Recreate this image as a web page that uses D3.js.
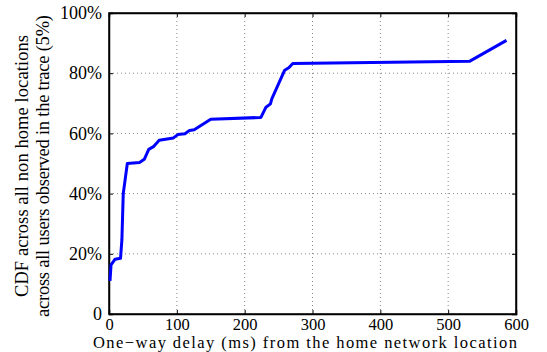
<!DOCTYPE html>
<html>
<head>
<meta charset="utf-8">
<script src="https://cdn.jsdelivr.net/npm/d3@7"></script>
<style>
body { margin: 0; background: #fff; }
svg text { font-family: "Liberation Serif", "Times New Roman", serif; fill: #000; }
</style>
</head>
<body>
<div class="chart"></div>
<script>
// delay (ms) and CDF (%)
var delayMs = [1.5, 3, 9, 17, 19, 21, 27, 45, 52, 58.6, 65.5, 74, 95, 101.5, 112, 118.7, 125.6, 150, 224, 231.4, 238, 240, 259, 265, 271, 532, 586];
var cdfPct = [11, 16.3, 18.2, 18.5, 24.6, 40, 50, 50.3, 51.4, 54.7, 55.6, 57.7, 58.5, 59.6, 59.9, 61, 61.2, 64.7, 65.3, 68.7, 69.8, 71.5, 81, 81.8, 83.2, 84, 90.9];
var xTicks = [0, 100, 200, 300, 400, 500, 600];
var yTicks = [0, 20, 40, 60, 80, 100];

var serif = '"Liberation Serif", "Times New Roman", serif';

var margin = {top: 13, right: 31, bottom: 38, left: 109};
var width = 547 - margin.left - margin.right;
var height = 352 - margin.top - margin.bottom;

var svg = d3.select('.chart')
	.append('svg')
	.attr('width', 547)
	.attr('height', 352);

var g = svg.append('g')
	.attr('transform', 'translate(' + margin.left + ',' + margin.top + ')');

var xScale = d3.scaleLinear().domain([0, 600]).range([0, width]);
var yScale = d3.scaleLinear().domain([0, 100]).range([height, 0]);

// dotted grid
g.append('g')
	.selectAll('line')
	.data(xTicks.slice(1, -1))
	.enter().append('line')
	.attr('x1', function(d) { return xScale(d); })
	.attr('x2', function(d) { return xScale(d); })
	.attr('y1', 0).attr('y2', height)
	.style('stroke', '#888').style('stroke-width', 1).style('stroke-dasharray', '1,3');

g.append('g')
	.selectAll('line')
	.data(yTicks.slice(1, -1))
	.enter().append('line')
	.attr('y1', function(d) { return yScale(d); })
	.attr('y2', function(d) { return yScale(d); })
	.attr('x1', 0).attr('x2', width)
	.style('stroke', '#888').style('stroke-width', 1).style('stroke-dasharray', '1,3');

// axes (matlab style: ticks inward, on all sides)
var xAxis = d3.axisBottom(xScale).tickValues(xTicks).tickSize(-4).tickPadding(4);
var yAxis = d3.axisLeft(yScale).tickValues(yTicks).tickSize(-4).tickPadding(7)
	.tickFormat(function(d) { return d === 0 ? '0' : d + '%'; });

var gx = g.append('g').attr('transform', 'translate(0,' + height + ')').call(xAxis);
var gy = g.append('g').call(yAxis);
g.append('g').call(d3.axisTop(xScale).tickValues(xTicks).tickSize(-4).tickFormat(''));
g.append('g').attr('transform', 'translate(' + width + ',0)')
	.call(d3.axisRight(yScale).tickValues(yTicks).tickSize(-4).tickFormat(''));

g.selectAll('.domain').style('stroke', '#000').style('stroke-width', 1.5);
g.selectAll('.tick line').style('stroke', '#000');
svg.selectAll('g').attr('font-family', null);
gx.selectAll('text').style('font-size', '16.5px').style('font-family', serif);
gy.selectAll('text').style('font-size', '18px').style('font-family', serif);

// frame
g.append('rect')
	.attr('width', width).attr('height', height)
	.style('fill', 'none').style('stroke', '#000').style('stroke-width', 1.5);

var line = d3.line()
	.x(function(d, i) { return xScale(delayMs[i]); })
	.y(function(d, i) { return yScale(cdfPct[i]); });

g.append('path')
	.attr('d', line(cdfPct))
	.style('fill', 'none')
	.style('stroke', '#0000ff')
	.style('stroke-width', 3)
	.style('stroke-linejoin', 'round');

// labels
svg.append('text')
	.attr('x', 305).attr('y', 348.2)
	.attr('text-anchor', 'middle')
	.attr('textLength', 424)
	.style('font-size', '16.5px')
	.style('font-family', serif)
	.text('One\u2212way delay (ms) from the home network location');

var yl = svg.append('text')
	.attr('transform', 'translate(28,166) rotate(-90)')
	.attr('text-anchor', 'middle')
	.style('font-size', '18.5px')
	.style('font-family', serif);
yl.append('tspan').attr('x', 0).attr('y', 0).attr('textLength', 262).text('CDF across all non home locations');
yl.append('tspan').attr('x', 0).attr('y', 21).attr('textLength', 302).text('across all users observed in the trace (5%)');
</script>
</body>
</html>
